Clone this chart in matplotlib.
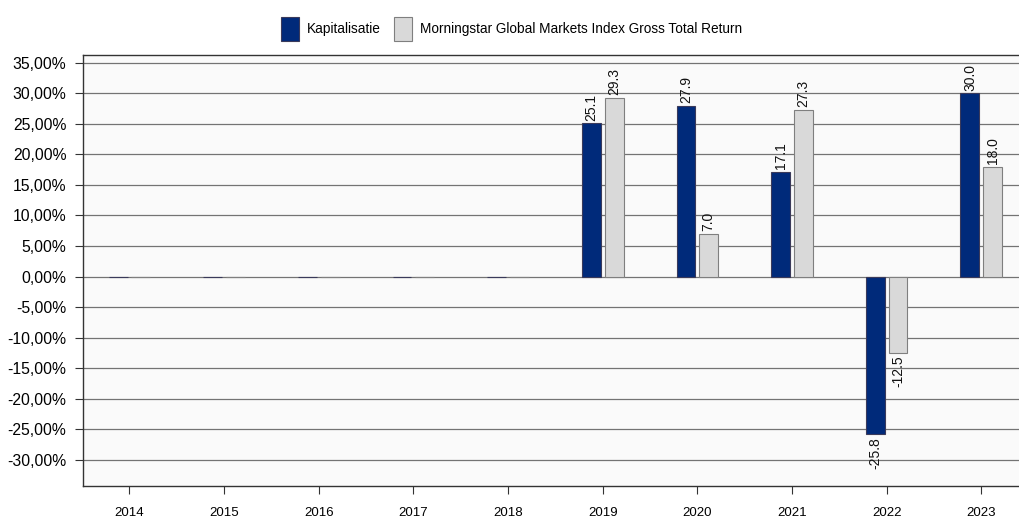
import matplotlib
matplotlib.use("Agg")
import matplotlib.pyplot as plt
import numpy as np
from matplotlib.ticker import FuncFormatter

years = ["2014", "2015", "2016", "2017", "2018", "2019", "2020", "2021", "2022", "2023"]
kapitalisatie = [None, None, None, None, None, 25.1, 27.9, 17.1, -25.8, 30.0]
index_return = [None, None, None, None, None, 29.3, 7.0, 27.3, -12.5, 18.0]
series_names = ["Kapitalisatie", "Morningstar Global Markets Index Gross Total Return"]

NAVY = "#002a7a"
GREY = "#d9d9d9"
EDGE = "#7f7f7f"
FONT = ["Liberation Sans", "DejaVu Sans"]

fig = plt.figure(figsize=(10.19, 5.18), dpi=100)
ax = fig.add_axes([0.0815, 0.062, 0.927, 0.832])
ax.set_facecolor("#fafafa")

x = np.arange(len(years))
w = 0.2
off = 0.12

def vals(a):
    return [0 if v is None else v for v in a]

b1 = ax.bar(x - off, vals(kapitalisatie), w, color=NAVY, edgecolor="#3a3a5a", linewidth=0.8,
            label=series_names[0], zorder=3)
b2 = ax.bar(x + off, vals(index_return), w, color=GREY, edgecolor=EDGE, linewidth=0.8,
            label=series_names[1], zorder=3)

for bars, data in ((b1, kapitalisatie), (b2, index_return)):
    labels = ["" if v is None else f"{v:.1f}" for v in data]
    ax.bar_label(bars, labels=labels, rotation=90, padding=2, fontsize=10,
                 family=FONT, color="#111111")

ax.set_xlim(-0.49, 9.49)
ax.set_ylim(-34.3, 36.3)
ax.set_yticks(np.arange(-30, 36, 5))
ax.yaxis.set_major_formatter(FuncFormatter(lambda v, p: f"{v:.2f}%".replace(".", ",")))
ax.grid(axis="y", color="#737373", linewidth=0.9, zorder=0)
ax.set_axisbelow(True)

ax.set_xticks(x)
ax.set_xticklabels(years, family=FONT, fontsize=9.5)
ax.tick_params(axis="y", labelsize=11.3, length=6, color="#333333", pad=6)
ax.tick_params(axis="x", length=6, color="#333333", pad=9)
for lab in ax.get_yticklabels():
    lab.set_family(FONT)
for s in ax.spines.values():
    s.set_color("#333333")
    s.set_linewidth(1.0)

leg = fig.legend(loc="upper center", bbox_to_anchor=(0.502, 0.99), ncol=2, frameon=False,
                 prop={"family": FONT, "size": 9.8}, handlelength=1.3, handleheight=2.3,
                 columnspacing=1.0, handletextpad=0.6)

fig.savefig("out.png", dpi=100, facecolor="white")
